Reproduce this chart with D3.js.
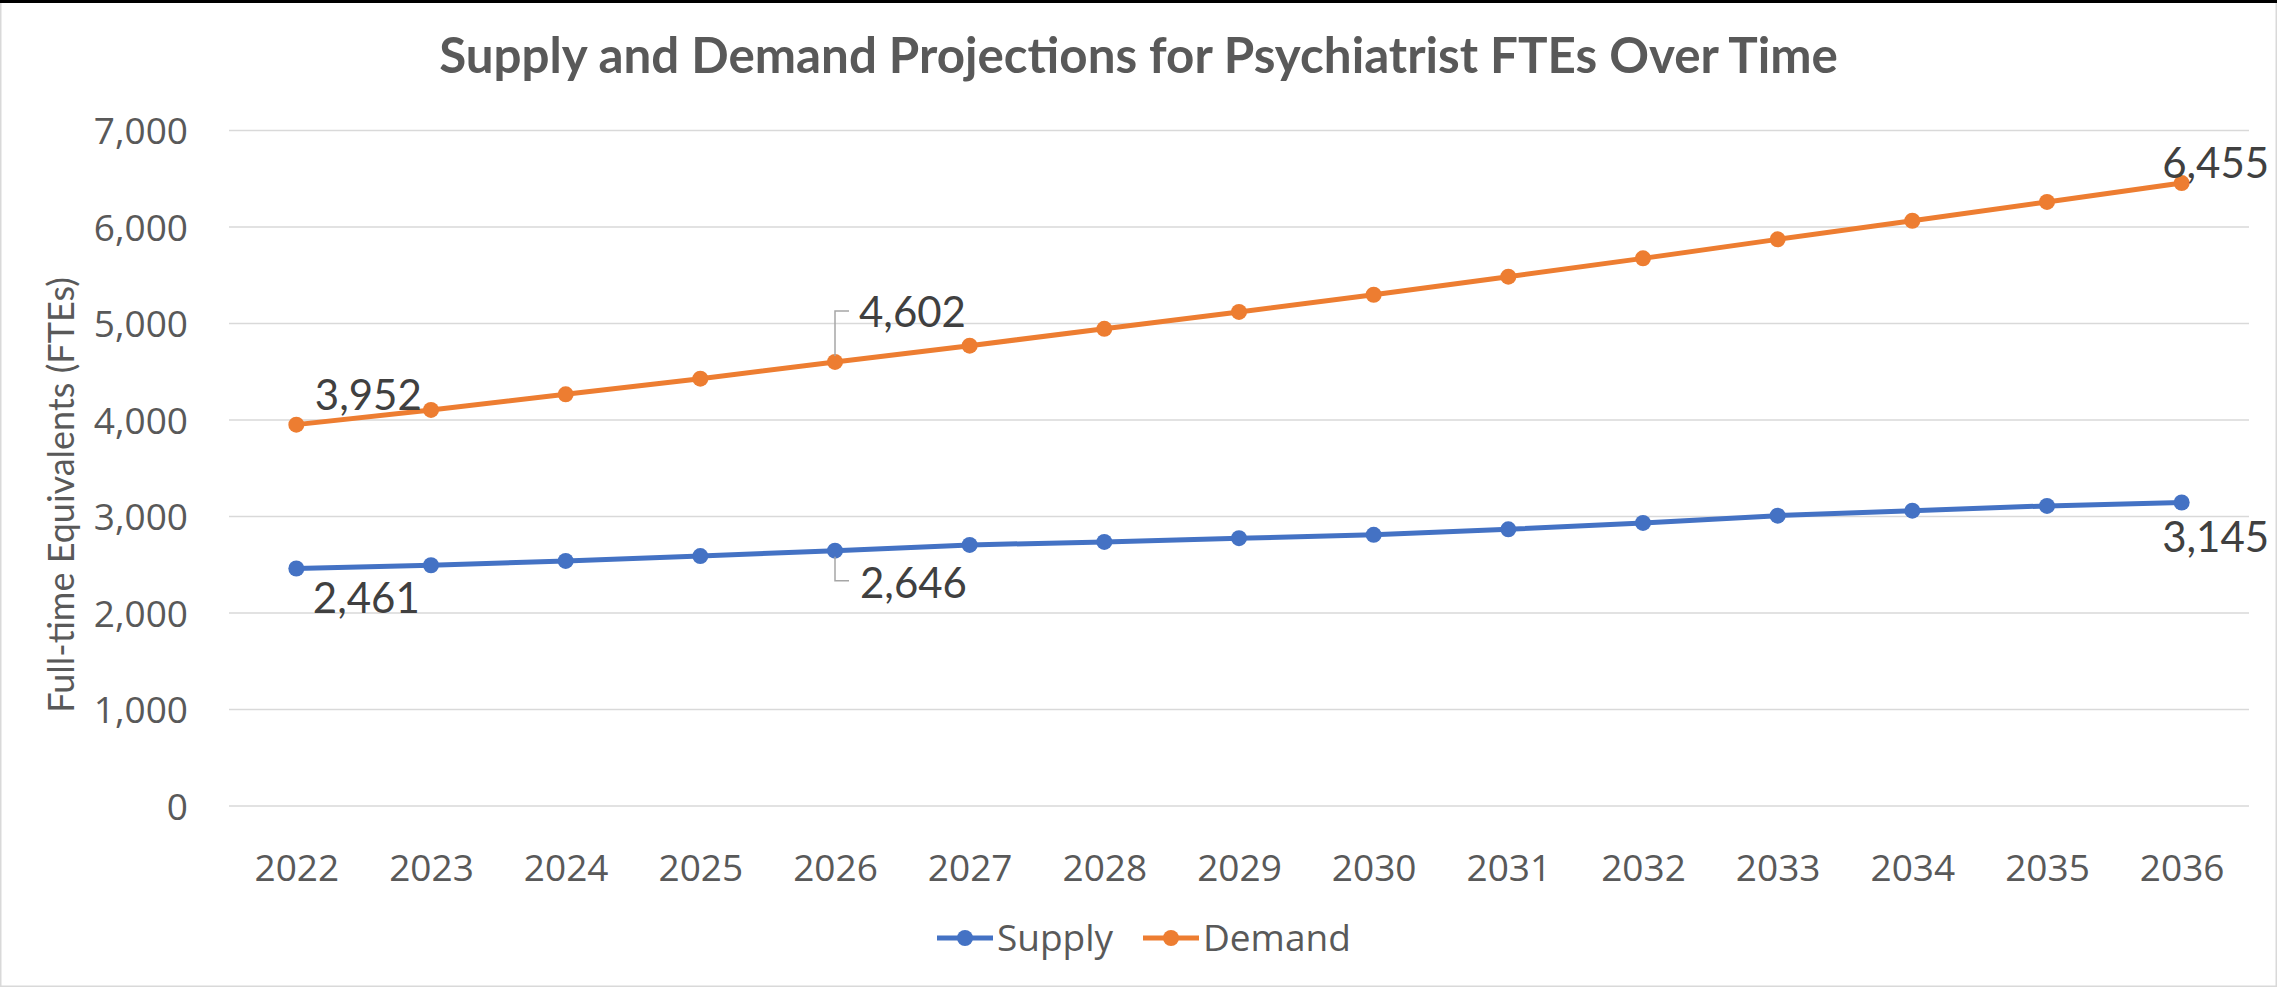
<!DOCTYPE html>
<html>
  <head>
    <meta charset="utf-8">
    <style>
      body { margin: 0; background-color: #ffffff; }
      svg { display: block; }
    </style>
  </head>
  <body>
    <svg width="2277" height="987"></svg>
    <script src="https://d3js.org/d3.v7.min.js"></script>
    <script>
    // chart values
    var years = ["2022", "2023", "2024", "2025", "2026", "2027", "2028", "2029",
                 "2030", "2031", "2032", "2033", "2034", "2035", "2036"];
    var supply = [2461, 2495, 2540, 2590, 2646, 2705, 2737, 2775,
                  2810, 2867, 2933, 3009, 3060, 3110, 3145];
    var demand = [3952, 4104, 4266, 4428, 4602, 4770, 4945, 5120,
                  5298, 5485, 5675, 5872, 6065, 6260, 6455];
    var yTicks = [0, 1000, 2000, 3000, 4000, 5000, 6000, 7000];
    var seriesNames = ["Supply", "Demand"];
    var seriesColors = ["#4472C4", "#ED7D31"];
    // which points carry a data label
    var labelIdx = [0, 4, 14];

    var svg = d3.select("svg"),
        W = +svg.attr("width"),
        H = +svg.attr("height"),
        margin = {top: 130.5, right: 28, bottom: 181, left: 229};

    var x = d3.scalePoint().domain(years).range([margin.left, W - margin.right]).padding(0.5);
    var y = d3.scaleLinear().domain([0, 7000]).range([H - margin.bottom, margin.top]);

    // frame
    svg.append("rect")
        .attr("x", 0.75).attr("y", 0.75)
        .attr("width", W - 1.5).attr("height", H - 1.5)
        .attr("fill", "#fff").attr("stroke", "#d9d9d9").attr("stroke-width", 1.5);
    svg.append("line")
        .attr("x1", 0).attr("x2", W).attr("y1", 1.5).attr("y2", 1.5)
        .attr("stroke", "#000").attr("stroke-width", 3);

    // title
    svg.append("text")
        .attr("x", W / 2).attr("y", 73)
        .attr("text-anchor", "middle")
        .style("font-family", "Lato, sans-serif")
        .style("font-weight", "bold")
        .style("font-size", "49.3px")
        .style("fill", "#595959")
        .text("Supply and Demand Projections for Psychiatrist FTEs Over Time");

    // gridlines
    svg.append("g")
      .selectAll("line")
      .data(yTicks)
      .enter().append("line")
        .attr("x1", margin.left).attr("x2", W - margin.right)
        .attr("y1", function(d) { return y(d); })
        .attr("y2", function(d) { return y(d); })
        .attr("stroke", "#d9d9d9").attr("stroke-width", 1.7);

    // y axis
    var yAxis = svg.append("g")
        .attr("transform", "translate(" + margin.left + ",0)")
        .call(d3.axisLeft(y).tickValues(yTicks).tickSize(0).tickPadding(41)
              .tickFormat(d3.format(",")));
    yAxis.select(".domain").remove();
    yAxis.selectAll("text")
        .attr("dy", "0.36em")
        .style("font-family", "'Open Sans', sans-serif")
        .style("font-size", "37px")
        .style("fill", "#595959");

    // x axis
    var xAxis = svg.append("g")
        .attr("transform", "translate(0," + y(0) + ")")
        .call(d3.axisBottom(x).tickSize(0).tickPadding(0));
    xAxis.select(".domain").remove();
    xAxis.selectAll("text")
        .attr("y", 74.5).attr("dy", 0)
        .style("font-family", "'Open Sans', sans-serif")
        .style("font-size", "37px")
        .style("fill", "#595959");

    // y axis title
    svg.append("text")
        .attr("transform", "translate(74," + 495 + ") rotate(-90)")
        .attr("text-anchor", "middle")
        .style("font-family", "Lato, sans-serif")
        .style("font-size", "36px")
        .style("fill", "#595959")
        .text("Full-time Equivalents (FTEs)");

    var line = d3.line()
        .x(function(d, i) { return x(years[i]); })
        .y(function(d) { return y(d); });

    [supply, demand].forEach(function(vals, s) {
      var g = svg.append("g");
      g.append("path")
          .datum(vals)
          .attr("d", line)
          .attr("fill", "none")
          .attr("stroke", seriesColors[s])
          .attr("stroke-width", 5)
          .attr("stroke-linejoin", "round");
      g.selectAll("circle")
          .data(vals)
          .enter().append("circle")
          .attr("cx", function(d, i) { return x(years[i]); })
          .attr("cy", function(d) { return y(d); })
          .attr("r", 8)
          .attr("fill", seriesColors[s]);
    });

    // data labels: offsets from the point, per series (0 supply, 1 demand) and index
    var labelOffsets = {
      "0-0": [16.5, 44], "0-4": [25, 47], "0-14": [-19.5, 49],
      "1-0": [18.5, -15], "1-4": [24, -35], "1-14": [-19.5, -5]
    };
    var fmt = d3.format(",");
    var labels = svg.append("g");
    [supply, demand].forEach(function(vals, s) {
      labelIdx.forEach(function(i) {
        var px = x(years[i]), py = y(vals[i]);
        var off = labelOffsets[s + "-" + i];
        if (i === 4) {
          // leader line
          var ly = s === 1 ? py - 51 : py + 30;
          labels.append("path")
              .attr("d", "M" + px + "," + (py + (s === 1 ? -6 : 6)) + "V" + ly + "H" + (px + 14))
              .attr("fill", "none")
              .attr("stroke", "#a6a6a6")
              .attr("stroke-width", 1.5);
        }
        labels.append("text")
            .attr("x", px + off[0])
            .attr("y", py + off[1])
            .style("font-family", "Lato, sans-serif")
            .style("font-size", "42px")
            .style("fill", "#404040")
            .text(fmt(vals[i]));
      });
    });

    // legend
    var legendX = [937, 1143];
    var legend = svg.append("g").attr("transform", "translate(0,938)");
    seriesNames.forEach(function(name, s) {
      var lg = legend.append("g").attr("transform", "translate(" + legendX[s] + ",0)");
      lg.append("line")
          .attr("x1", 0).attr("x2", 56).attr("y1", 0).attr("y2", 0)
          .attr("stroke", seriesColors[s]).attr("stroke-width", 5);
      lg.append("circle")
          .attr("cx", 28).attr("cy", 0).attr("r", 8)
          .attr("fill", seriesColors[s]);
      lg.append("text")
          .attr("x", 60).attr("y", 13)
          .style("font-family", "'Open Sans', sans-serif")
          .style("font-size", "37px")
          .style("fill", "#595959")
          .text(name);
    });
    </script>
  </body>
</html>
